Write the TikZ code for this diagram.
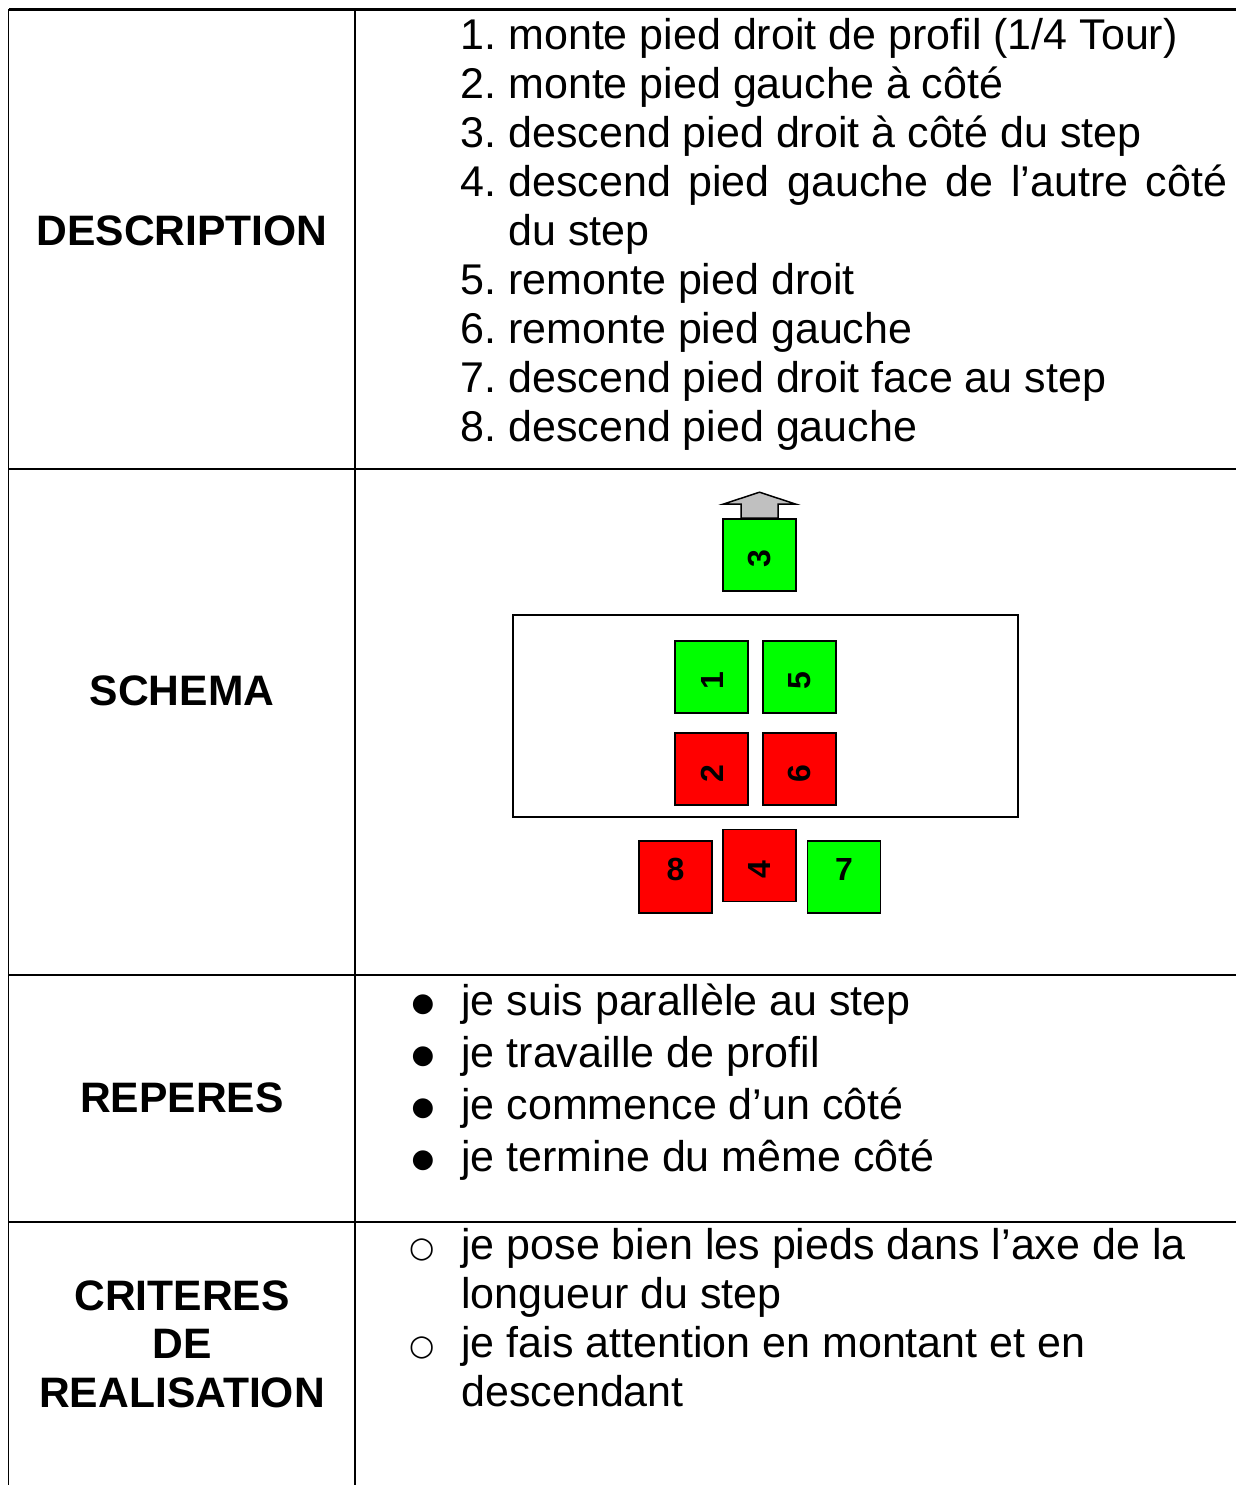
\documentclass[tikz,border=0pt]{standalone}
\usepackage{fontspec}
\setmainfont{Liberation Sans}
\newfontfamily\symfont{DejaVu Sans}
\usetikzlibrary{calc}
\definecolor{fgreen}{HTML}{00FF00}
\definecolor{fred}{HTML}{FF0000}
\definecolor{agray}{HTML}{C0C0C0}
\begin{document}
\begin{tikzpicture}[x=0.5pt,y=-0.5pt,
  grid/.style={line width=0.8pt},
  body/.style={anchor=base west,inner sep=0pt,font=\fontsize{21.5}{24.5}\selectfont},
  bul/.style={anchor=center,inner sep=0pt,font=\fontsize{13}{13}\symfont},
  obul/.style={anchor=center,inner sep=0pt,font=\fontsize{14.5}{14.5}\symfont},
  head/.style={anchor=base,inner sep=0pt,font=\fontsize{21.3}{24.5}\selectfont\bfseries},
  foot/.style={draw=black,line width=0.8pt,minimum width=36.5pt,minimum height=36pt,inner sep=0pt},
  gfoot/.style={foot,fill=fgreen},
  rfoot/.style={foot,fill=fred},
  digit/.style={inner sep=0pt,font=\fontsize{16}{18}\selectfont\bfseries},
  stepbox/.style={draw=black,line width=0.75pt,minimum width=252.5pt,minimum height=101pt,inner sep=0pt},
  blockarrow/.style={draw=black,line width=0.75pt,fill=agray,line join=miter}]
\useasboundingbox (0,0) rectangle (1236,1485);
% table
\coordinate (tl) at (8.5,9.7);
\coordinate (tr) at (1236,9.7);
\draw[line width=1.3pt] (tl) -- (tr);
\draw[grid] (8.5,9) -- (8.5,1485);
\draw[grid] (355,9) -- (355,1485);
\draw[grid] (8.5,469) -- (1236,469);
\draw[grid] (8.5,975) -- (1236,975);
\draw[grid] (8.5,1222) -- (1236,1222);
% headers
\node[head] (hdesc) at (182,245) {DESCRIPTION};
\node[head] (hsch) at (182,705) {SCHEMA};
\node[head] (hrep) at (182,1112) {REPERES};
\node[head] (hcrit1) at (182,1310) {CRITERES};
\node[head] (hcrit2) at (182,1358) {DE};
\node[head] (hcrit3) at (182,1407) {REALISATION};
% description
\node[body] (n1) at (460,49) {1.};
\node[body] (d1) at (508,49) {monte pied droit de profil (1/4 Tour)};
\node[body] (n2) at (460,98) {2.};
\node[body] (d2) at (508,98) {monte pied gauche à côté};
\node[body] (n3) at (460,147) {3.};
\node[body] (d3) at (508,147) {descend pied droit à côté du step};
\node[body] (n4) at (460,196) {4.};
\node[body] (d4) at (508,196) {\makebox[359.5pt][s]{descend pied gauche de l’autre côté}};
\node[body] (d4b) at (508,245) {du step};
\node[body] (n5) at (460,294) {5.};
\node[body] (d5) at (508,294) {remonte pied droit};
\node[body] (n6) at (460,343) {6.};
\node[body] (d6) at (508,343) {remonte pied gauche};
\node[body] (n7) at (460,392) {7.};
\node[body] (d7) at (508,392) {descend pied droit face au step};
\node[body] (n8) at (460,441) {8.};
\node[body] (d8) at (508,441) {descend pied gauche};
% schema
\node[stepbox] (stepbox) at (765.5,716) {};
\node[gfoot] (s3) at (759.5,555) {};
\node[gfoot] (s1) at (711.5,677) {};
\node[gfoot] (s5) at (799.5,677) {};
\node[rfoot] (s2) at (711.5,769) {};
\node[rfoot] (s6) at (799.5,769) {};
\node[rfoot] (s8) at (675.5,877) {};
\node[rfoot] (s4) at (759.5,865.5) {};
\node[gfoot] (s7) at (844,877) {};
\draw[blockarrow] ($(s3.north)+(-18.5,0)$) -- ($(s3.north)+(-18.5,-14)$) -- ($(s3.north)+(-36.5,-14)$) -- ($(s3.north)+(0,-26)$) -- ($(s3.north)+(36.5,-14)$) -- ($(s3.north)+(18.5,-14)$) -- ($(s3.north)+(18.5,0)$) -- cycle;
\node[digit,rotate=90] (t3) at ($(s3.center)+(0,4)$) {3};
\node[digit,rotate=90] (t1) at ($(s1.center)+(1,4)$) {1};
\node[digit,rotate=90] (t5) at ($(s5.center)+(0,4)$) {5};
\node[digit,rotate=90] (t2) at ($(s2.center)+(1,5)$) {2};
\node[digit,rotate=90] (t6) at ($(s6.center)+(0,5)$) {6};
\node[digit,rotate=90] (t4) at ($(s4.center)+(0,4)$) {4};
\node[digit] (t8) at ($(s8.center)+(0,-8)$) {8};
\node[digit] (t7) at ($(s7.center)+(0,-8)$) {7};
% reperes
\node[bul] (b1) at (423,1005) {●};
\node[body] (r1) at (461,1015) {je suis parallèle au step};
\node[bul] (b2) at (423,1057) {●};
\node[body] (r2) at (461,1067) {je travaille de profil};
\node[bul] (b3) at (423,1109) {●};
\node[body] (r3) at (461,1119) {je commence d’un côté};
\node[bul] (b4) at (423,1161) {●};
\node[body] (r4) at (461,1171) {je termine du même côté};
% criteres
\node[obul] (o1) at (422.5,1250) {○};
\node[body] (c1) at (461,1259) {je pose bien les pieds dans l’axe de la};
\node[body] (c1b) at (461,1308) {longueur du step};
\node[obul] (o2) at (422.5,1348) {○};
\node[body] (c2) at (461,1357) {je fais attention en montant et en};
\node[body] (c2b) at (461,1406) {descendant};
\end{tikzpicture}
\end{document}
